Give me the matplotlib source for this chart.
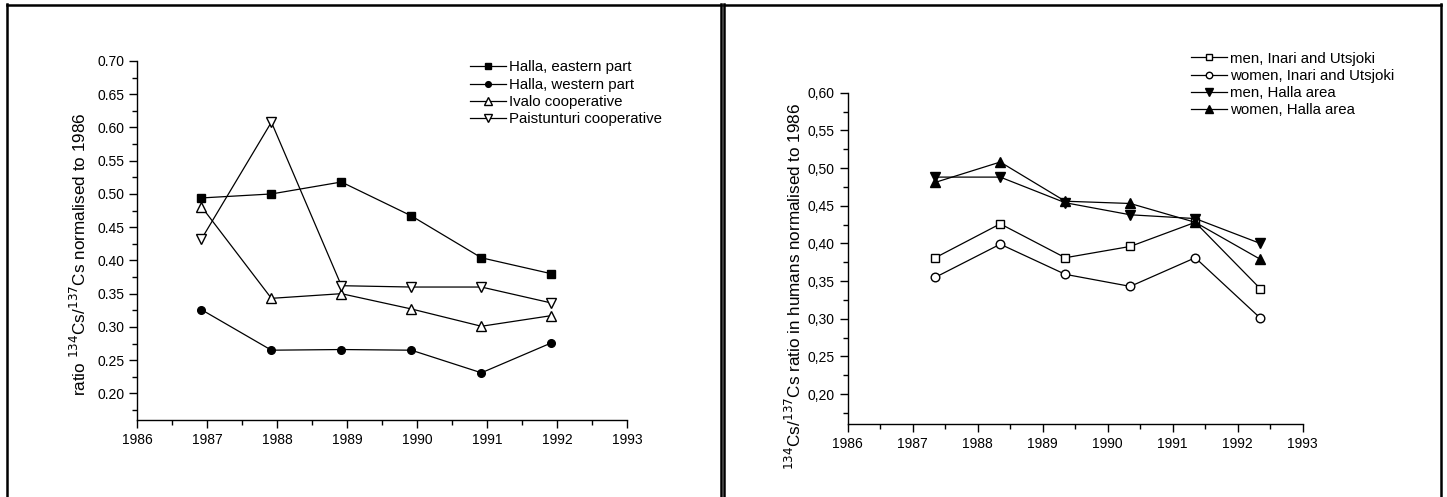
import numpy as np
from matplotlib import pyplot as plt
import matplotlib as mpl
from matplotlib.lines import Line2D
from matplotlib.ticker import MultipleLocator, FuncFormatter

mpl.rc('font', size=10.0, family='Liberation Sans')
mpl.rc('lines', linewidth=0.9)

# Left panel: reindeer, 134Cs/137Cs ratio
years_l = [1986.92, 1987.92, 1988.92, 1989.92, 1990.92, 1991.92]
halla_east = [0.494, 0.500, 0.518, 0.467, 0.404, 0.380]
halla_west = [0.326, 0.265, 0.266, 0.265, 0.231, 0.276]
ivalo = [0.481, 0.343, 0.350, 0.327, 0.301, 0.317]
paistunturi = [0.432, 0.608, 0.362, 0.360, 0.360, 0.336]

# Right panel: humans
years_r = [1987.35, 1988.35, 1989.35, 1990.35, 1991.35, 1992.35]
men_inari = [0.381, 0.426, 0.381, 0.396, 0.428, 0.340]
women_inari = [0.355, 0.399, 0.359, 0.343, 0.381, 0.301]
men_halla = [0.488, 0.488, 0.454, 0.438, 0.433, 0.400]
women_halla = [0.481, 0.508, 0.456, 0.453, 0.428, 0.379]

W, H = 1447.0, 497.0
fig = plt.figure(figsize=(W/100, H/100), dpi=100, facecolor='white')

# panel frames (pixel coords -> figure fraction)
def vline(x, y0, y1):
    fig.add_artist(Line2D([x/W, x/W], [1 - y0/H, 1 - y1/H], color='k', lw=1.8,
                          transform=fig.transFigure))

def hline(x0, x1, y):
    fig.add_artist(Line2D([x0/W, x1/W], [1 - y/H, 1 - y/H], color='k', lw=1.8,
                          transform=fig.transFigure))

vline(7, 4, 497)
vline(720.5, 4, 497)
hline(7, 720.5, 4.5)
vline(724.5, 4, 497)
vline(1440.5, 4, 497)
hline(724.5, 1440.5, 4.5)


def style_axes(ax, ylim, comma):
    ax.set_xlim(1986, 1993)
    ax.set_ylim(*ylim)
    for s in ['top', 'right']:
        ax.spines[s].set_visible(False)
    for s in ['left', 'bottom']:
        ax.spines[s].set_linewidth(1.0)
    ax.xaxis.set_major_locator(MultipleLocator(1))
    ax.xaxis.set_minor_locator(MultipleLocator(0.5))
    ax.yaxis.set_major_locator(MultipleLocator(0.05))
    ax.yaxis.set_minor_locator(MultipleLocator(0.025))
    ax.tick_params(which='major', direction='out', length=6, width=1.0,
                   labelsize=10, pad=3)
    ax.tick_params(which='minor', direction='out', length=3.5, width=1.0)
    if comma:
        ax.yaxis.set_major_formatter(
            FuncFormatter(lambda v, p: ('%.2f' % v).replace('.', ',')))
    else:
        ax.yaxis.set_major_formatter(FuncFormatter(lambda v, p: '%.2f' % v))
    ax.set_facecolor('none')


leg_kw = dict(loc='upper left', frameon=False, fontsize=10.8,
              handlelength=2.4, handletextpad=0.2, labelspacing=0.22,
              borderpad=0, borderaxespad=0, markerscale=0.75)

# left axes
ax1 = fig.add_axes([137/W, 1 - 420/H, 490/W, (420 - 61)/H])
style_axes(ax1, (0.16, 0.70), False)
ax1.plot(years_l, halla_east, 'k-', marker='s', ms=5.5, mfc='k',
         label='Halla, eastern part')
ax1.plot(years_l, halla_west, 'k-', marker='o', ms=5.5, mfc='k',
         label='Halla, western part')
ax1.plot(years_l, ivalo, 'k-', marker='^', ms=7, mfc='white',
         label='Ivalo cooperative')
ax1.plot(years_l, paistunturi, 'k-', marker='v', ms=7, mfc='white',
         label='Paistunturi cooperative')
ax1.set_ylabel(r'ratio $^{134}$Cs/$^{137}$Cs normalised to 1986',
               fontsize=12.3)
ax1.yaxis.set_label_coords(-0.098, 0.462)
ax1.legend(bbox_to_anchor=(470/W, 1 - 60.5/H),
           bbox_transform=fig.transFigure, **leg_kw)

# right axes
ax2 = fig.add_axes([847.5/W, 1 - 424.3/H, 455/W, (424.3 - 92.7)/H])
style_axes(ax2, (0.16, 0.60), True)
ax2.plot(years_r, men_inari, 'k-', marker='s', ms=5.5, mfc='white',
         label='men, Inari and Utsjoki')
ax2.plot(years_r, women_inari, 'k-', marker='o', ms=6.2, mfc='white',
         label='women, Inari and Utsjoki')
ax2.plot(years_r, men_halla, 'k-', marker='v', ms=7.5, mfc='k',
         label='men, Halla area')
ax2.plot(years_r, women_halla, 'k-', marker='^', ms=7.5, mfc='k',
         label='women, Halla area')
ax2.set_ylabel(r'$^{134}$Cs/$^{137}$Cs ratio in humans normalised to 1986',
               fontsize=12.3)
ax2.yaxis.set_label_coords(-0.096, 0.417)
ax2.legend(bbox_to_anchor=(1190.6/W, 1 - 51.5/H),
           bbox_transform=fig.transFigure, **leg_kw)

plt.savefig('out.png', dpi=100)
